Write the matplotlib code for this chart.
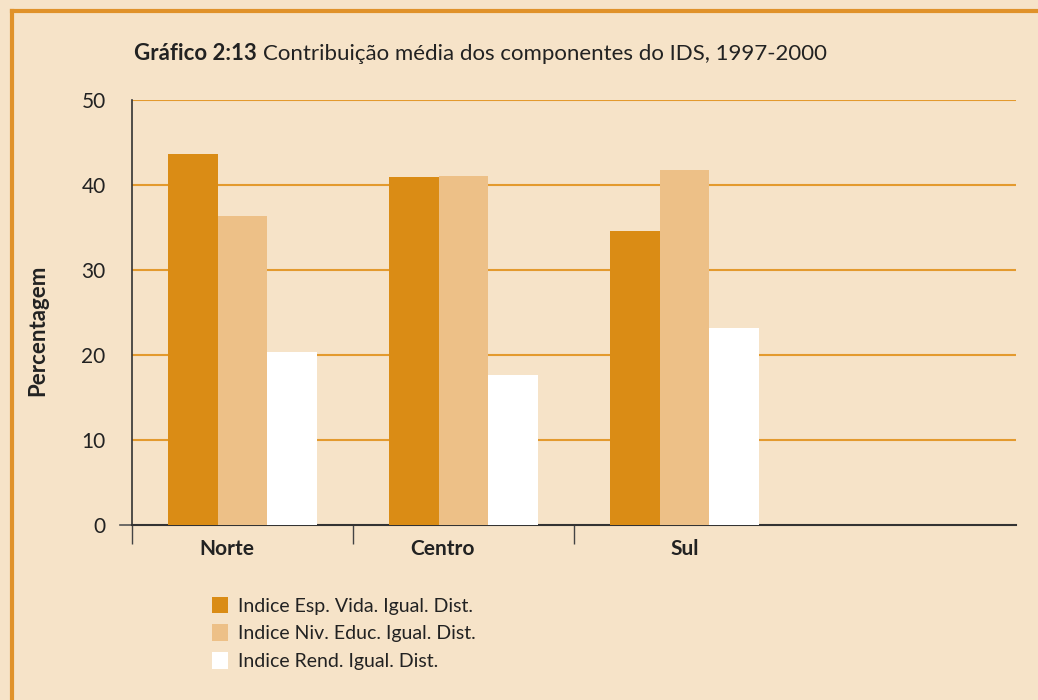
import matplotlib
matplotlib.use("Agg")
import matplotlib.pyplot as plt
from matplotlib.lines import Line2D
from matplotlib.patches import Patch
import numpy as np

plt.rcParams['font.family'] = ['Lato', 'DejaVu Sans']

categories = ["Norte", "Centro", "Sul"]
series_names = ["Indice Esp. Vida. Igual. Dist.",
                "Indice Niv. Educ. Igual. Dist.",
                "Indice Rend. Igual. Dist."]
esp_vida = [43.6, 40.9, 34.6]
niv_educ = [36.3, 41.1, 41.8]
rend = [20.4, 17.6, 23.2]
y_ticks = [0, 10, 20, 30, 40, 50]

bg = "#F6E3C8"
colors = ["#DA8C15", "#EDC087", "#FFFFFF"]
grid_c = "#E39A2E"
border_c = "#E0922A"

fig = plt.figure(figsize=(10.38, 7.0), dpi=100)
fig.patch.set_facecolor(bg)

# orange frame (top & left)
fig.add_artist(Line2D([12/1038, 1.0], [1-11/700, 1-11/700], color=border_c, lw=3, transform=fig.transFigure))
fig.add_artist(Line2D([12/1038, 12/1038], [0, 1-11/700], color=border_c, lw=3, transform=fig.transFigure))

ax = fig.add_axes([132/1038, 1-525/700, 884/1038, 425/700])
ax.set_facecolor(bg)

x = np.arange(len(categories))
w = 0.226
series = [esp_vida, niv_educ, rend]
for i, (vals, c) in enumerate(zip(series, colors)):
    ax.bar(x + (i-1)*w, vals, width=w, color=c, zorder=3, linewidth=0)

ax.set_xlim(-0.5, 3.5)
ax.set_ylim(0, 50)
ax.set_yticks(y_ticks)
ax.set_yticklabels([str(v) for v in y_ticks], fontsize=15, color="#222222")
ax.tick_params(axis='y', length=0, pad=19)
for v in y_ticks[1:]:
    ax.axhline(v, color=grid_c, lw=1.5, zorder=1)

ax.set_xticks([-0.5, 0.5, 1.5])
ax.set_xticklabels([])
ax.tick_params(axis='x', which='major', length=14, width=1, color="#444444", direction='out')
label_shift = [-0.07, -0.095, 0.0]
ax.set_xticks(x + np.array(label_shift), minor=True)
ax.set_xticklabels(categories, minor=True, fontsize=15, fontweight='bold', color="#222222")
ax.tick_params(axis='x', which='minor', length=0, pad=10)

for s in ['top', 'right']:
    ax.spines[s].set_visible(False)
ax.spines['left'].set_color("#333333")
ax.spines['bottom'].set_color("#333333")
ax.spines['left'].set_linewidth(1.2)
ax.spines['bottom'].set_linewidth(1.5)
ax.add_line(Line2D([-0.014, 0], [0, 0], transform=ax.transAxes, color="#555555", lw=1.2, clip_on=False))

ax.set_ylabel("Percentagem", fontsize=16, fontweight='bold', color="#222222")
ax.yaxis.set_label_coords(-0.095, 0.459)

handles = [Patch(facecolor=c, edgecolor='none') for c in colors]
fig.legend(handles, series_names, loc='upper left', bbox_to_anchor=(194/1038, 1-579/700),
           frameon=False, fontsize=14, handlelength=0.85, handleheight=0.95,
           handletextpad=0.5, labelspacing=0.5, labelcolor="#222222")

# title
t1 = fig.text(134/1038, 1-60/700, "Gráfico 2:13", fontsize=16, fontweight='bold', color="#222222", va='baseline')
fig.canvas.draw()
bb = t1.get_window_extent()
fig.text((bb.x1 + 6)/1038, 1-60/700, "Contribuição média dos componentes do IDS, 1997-2000",
         fontsize=16, color="#222222", va='baseline')

fig.savefig("out.png", dpi=100, facecolor=bg)
